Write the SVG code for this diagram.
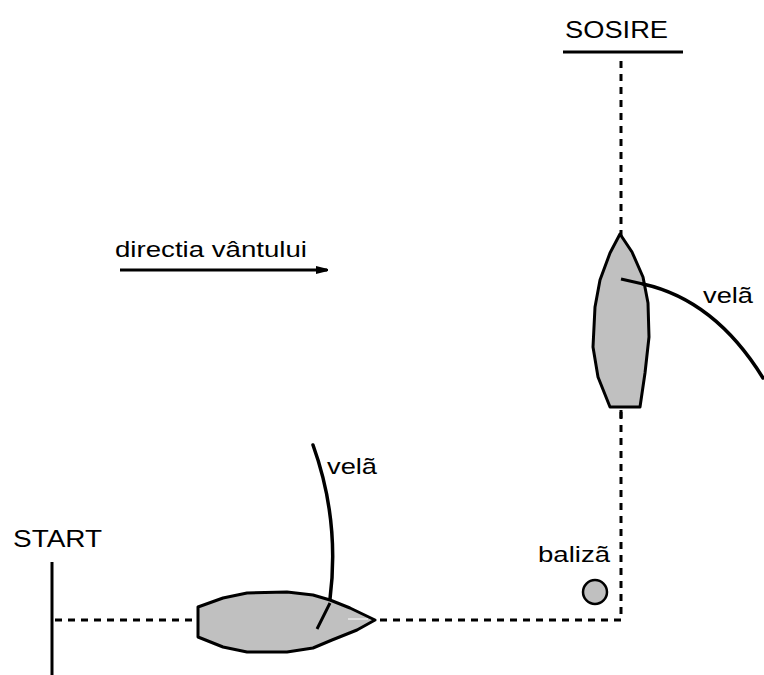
<svg xmlns="http://www.w3.org/2000/svg" width="764" height="675" viewBox="0 0 764 675">
<style>
  .t { font-family: "Liberation Sans", Arial, sans-serif; fill: #000; }
  .dash { fill: none; stroke: #000; stroke-width: 3; stroke-dasharray: 7 6; }
  .solid { fill: none; stroke: #000; stroke-width: 3; }
  .hull { fill: #c0c0c0; stroke: #000; stroke-width: 3; stroke-linejoin: round; }
  .sail { fill: none; stroke: #000; stroke-width: 3.5; stroke-linecap: round; }
</style>
<defs>
  <marker id="arr" markerWidth="12" markerHeight="8" refX="11" refY="4" orient="auto" markerUnits="userSpaceOnUse">
    <path d="M0,0 L4,1 L12,3 L12,5 L4,7 L0,8 Z" fill="#000"/>
  </marker>
</defs>
<rect width="764" height="675" fill="#fff"/>

<g id="connectors">
  <path class="dash" d="M55,620 H621 V58"/>
  <line class="solid" x1="120" y1="270" x2="327" y2="270" marker-end="url(#arr)"/>
</g>

<g id="start">
  <line class="solid" x1="52" y1="562" x2="52" y2="675"/>
  <text class="t" x="13" y="547" font-size="24" textLength="89" lengthAdjust="spacingAndGlyphs">START</text>
</g>

<g id="sosire">
  <line class="solid" x1="563" y1="52" x2="683" y2="52"/>
  <text class="t" x="565" y="38" font-size="24" textLength="103" lengthAdjust="spacingAndGlyphs">SOSIRE</text>
</g>

<g id="wind">
  <text class="t" x="115" y="257" font-size="22" textLength="192" lengthAdjust="spacingAndGlyphs">directia vântului</text>
</g>

<g id="baliza">
  <circle cx="595" cy="592" r="12" fill="#c0c0c0" stroke="#000" stroke-width="2.5"/>
  <text class="t" x="538" y="562" font-size="22" textLength="72" lengthAdjust="spacingAndGlyphs">balizã</text>
</g>

<g id="boat-bottom">
  <path class="hull" d="M198,607 L223,598 L247,593 L287,592 L313,595 L330,600 L350,608 L375,620 L357,630 L332,640 L313,648 L287,652 L247,652 L223,647 L198,637 Z"/>
  <line x1="348" y1="619" x2="368" y2="619" stroke="#fff" stroke-width="1"/>
  <path class="sail" d="M313,445 Q340,520 330,599"/>
  <line class="solid" x1="330" y1="603" x2="317" y2="629" stroke-width="2.5"/>
  <text class="t" x="327" y="474" font-size="22" textLength="50" lengthAdjust="spacingAndGlyphs">velã</text>
</g>

<g id="boat-top">
  <path class="hull" d="M620,234 L610,253 L600,280 L595,307 L593,347 L598,377 L610,407 L640,407 L645,373 L649,337 L648,303 L643,277 L632,252 Z"/>
  <line class="solid" x1="621" y1="410" x2="621" y2="418"/>
  <line class="solid" x1="621" y1="279" x2="643" y2="284"/>
  <path class="sail" d="M643,284 Q715,300 763,378"/>
  <text class="t" x="703" y="303" font-size="22" textLength="50" lengthAdjust="spacingAndGlyphs">velã</text>
</g>
</svg>
